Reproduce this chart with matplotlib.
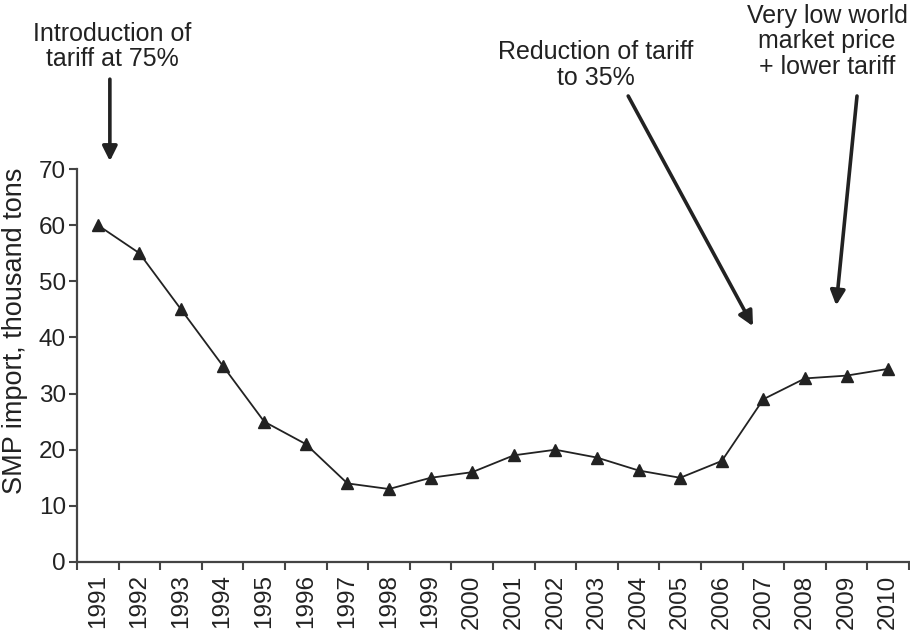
import numpy as np
import matplotlib
matplotlib.use('Agg')
import matplotlib.pyplot as plt

plt.rcParams['font.family'] = ['Liberation Sans', 'DejaVu Sans']

# dados
anos = [str(a) for a in range(1991, 2011)]
importacao = [60, 55, 45, 35, 25, 21, 14, 13, 15, 16,
              19, 20, 18.6, 16.3, 15, 18, 29, 32.7, 33.2, 34.4]
yticks = [0, 10, 20, 30, 40, 50, 60, 70]

cor = '#222222'

fig = plt.figure(figsize=(9.1, 6.38), dpi=100)
ax = fig.add_axes([77/910, 1 - 562/638, 832/910, 393/638])

x = np.arange(len(anos))
ax.plot(x, importacao, color=cor, lw=1.3, marker='^', markersize=8.5,
        markerfacecolor=cor, markeredgecolor=cor, clip_on=False, zorder=3)

ax.set_xlim(-0.5, len(anos) - 0.5)
ax.set_ylim(0, 70)

# marcas nas fronteiras, rotulos no meio
ax.set_xticks(np.arange(-0.5, len(anos), 1))
ax.set_xticklabels([])
ax.set_xticks(x, minor=True)
ax.set_xticklabels(anos, minor=True, rotation=90, fontsize=17.5, color=cor)
ax.tick_params(axis='x', which='minor', length=0, pad=9)
ax.tick_params(axis='x', which='major', length=6, width=1.5, color='#444444', direction='out')

ax.set_yticks(yticks)
ax.set_yticklabels([str(v) for v in yticks], fontsize=17.5, color=cor)
ax.tick_params(axis='y', length=6, width=1.5, color='#444444', direction='out', pad=2)

for s in ['top', 'right']:
    ax.spines[s].set_visible(False)
for s in ['left', 'bottom']:
    ax.spines[s].set_linewidth(1.6)
    ax.spines[s].set_color('#444444')

fig.text(15/910, 1 - 331/638, 'SMP import, thousand tons', rotation=90,
         ha='center', va='center', fontsize=19.5, color=cor)

# textos e setas
seta = dict(arrowstyle='-|>', lw=2.6, color=cor, mutation_scale=22, shrinkA=0, shrinkB=0)
ax.text(0.34, 96.2, 'Introduction of\ntariff at 75%', ha='center', va='top',
        fontsize=18, color=cor, clip_on=False, linespacing=1.08)
ax.annotate('', xy=(0.29, 71.4), xytext=(0.29, 86), arrowprops=seta, annotation_clip=False)

ax.text(11.98, 92.9, 'Reduction of tariff\nto 35%', ha='center', va='top',
        fontsize=18, color=cor, clip_on=False, linespacing=1.08)
ax.annotate('', xy=(15.75, 42), xytext=(12.75, 83), arrowprops=seta, annotation_clip=False)

ax.text(17.53, 99.4, 'Very low world\nmarket price\n+ lower tariff', ha='center', va='top',
        fontsize=18, color=cor, clip_on=False, linespacing=1.08)
ax.annotate('', xy=(17.75, 45.7), xytext=(18.25, 83), arrowprops=seta, annotation_clip=False)

fig.savefig('out.png', dpi=100)
